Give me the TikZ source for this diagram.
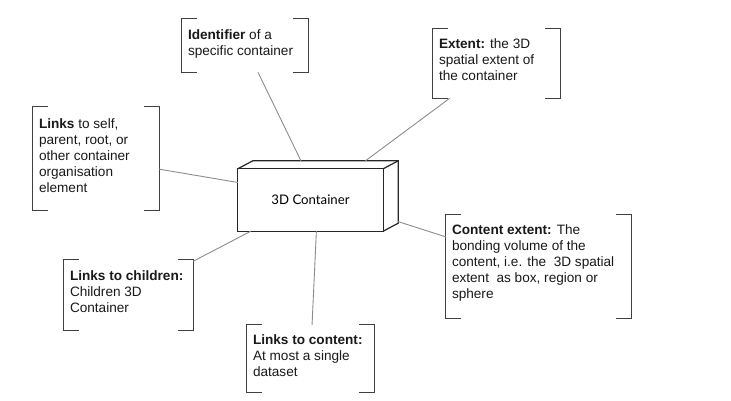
\documentclass[tikz,border=0pt]{standalone}
\usepackage{fontspec}
\setmainfont{Liberation Sans}
\newfontfamily\latofont{Lato}
\usetikzlibrary{positioning}

\tikzset{
  callout/.style = {shape = rectangle, draw = none, inner sep = 0pt},
  calltext/.style = {shape = rectangle, align = left, inner xsep = 6pt, inner ysep = 0pt, text = black!90,
    font = \fontsize{13.6}{16}\selectfont},
  bracketline/.style = {draw = black!75, line width = 1.3pt},
  link/.style = {draw = black!45, line width = 0.9pt},
  boxline/.style = {draw = black!85, line width = 1.2pt}
}

\begin{document}
\begin{tikzpicture}[x = 1pt, y = 1pt]
\useasboundingbox (0,0) rectangle (731,400);

% the container itself
\node[callout, minimum width = 160pt, minimum height = 70pt] (box) at (318,204) {};
\draw[boxline] (box.south west) rectangle ([shift={(-15pt,-8pt)}]box.north east);
\draw[boxline] ([yshift=-8pt]box.north west) -- ([xshift=15pt]box.north west) -- (box.north east)
  -- ([yshift=8pt]box.south east) -- ([xshift=-15pt]box.south east);
\draw[boxline] ([shift={(-15pt,-8pt)}]box.north east) -- (box.north east);
\node[font = \latofont\fontsize{13.2}{16}\selectfont] (boxlabel) at ([shift={(-7.5pt,-4pt)}]box.center) {3D Container};

% callouts
\node[callout, minimum width = 126pt, minimum height = 53pt] (ident) at (245,354.5) {};
\node[callout, minimum width = 127pt, minimum height = 69pt] (extent) at (496.5,336.5) {};
\node[callout, minimum width = 126pt, minimum height = 103pt] (selflinks) at (96,241.5) {};
\node[callout, minimum width = 185pt, minimum height = 103pt] (cextent) at (538.5,133.5) {};
\node[callout, minimum width = 129pt, minimum height = 70pt] (children) at (128.5,105) {};
\node[callout, minimum width = 127pt, minimum height = 67pt] (content) at (310.5,41.5) {};

\node[calltext, below right = 11pt and 0pt of ident.north west] (identtext)
  {\textbf{Identifier} of a\\specific container};
\node[calltext, below right = 10pt and 0pt of extent.north west] (extenttext)
  {\textbf{Extent:} the 3D\\spatial extent of\\the container};
\node[calltext, below right = 12pt and 0pt of selflinks.north west] (selflinkstext)
  {\textbf{Links} to self,\\parent, root, or\\other container\\organisation\\element};
\node[calltext, below right = 10pt and 0pt of cextent.north west] (cextenttext)
  {\textbf{Content extent:} The\\bonding volume of the\\content, i.e. the \ 3D spatial\\extent \ as box, region or\\sphere};
\node[calltext, below right = 11pt and 0pt of children.north west] (childrentext)
  {\textbf{Links to children:}\\Children 3D\\Container};
\node[calltext, below right = 10pt and 0pt of content.north west] (contenttext)
  {\textbf{Links to content:}\\At most a single\\dataset};

% brackets round each callout
\foreach \n in {ident,extent,selflinks,cextent,children,content}{
  \draw[bracketline] ([xshift=15pt]\n.north west) -| (\n.south west) -- ++(15pt,0);
  \draw[bracketline] ([xshift=-15pt]\n.north east) -| (\n.south east) -- ++(-15pt,0);
}

% connectors
\foreach \n in {ident,extent,selflinks,cextent,children,content}
  \draw[link] (box) -- (\n);
\end{tikzpicture}
\end{document}
